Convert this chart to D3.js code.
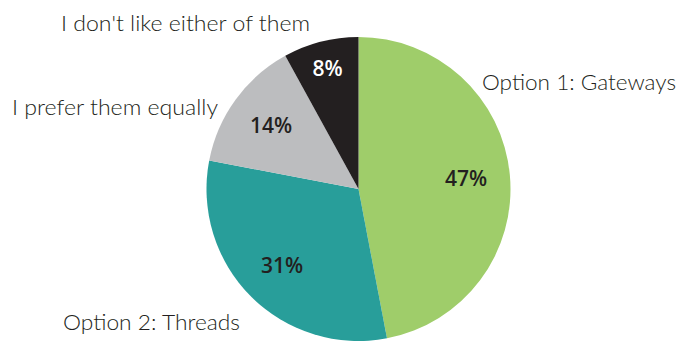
<!DOCTYPE html>
<html>
<head>
<meta charset="utf-8">
<script src="https://cdn.jsdelivr.net/npm/d3@7"></script>
<style>
  html, body { margin: 0; padding: 0; background: #fff; }
  svg { display: block; }
</style>
</head>
<body>
<svg id="chart" width="678" height="341"></svg>
<script>
const categories = ["Option 1: Gateways", "Option 2: Threads", "I prefer them equally", "I don't like either of them"];
const values = [47, 31, 14, 8];
const valueLabels = ["47%", "31%", "14%", "8%"];
const colors = ["#9fcd6a", "#289e9a", "#bcbdbf", "#231f20"];
const labelColors = ["#231f20", "#231f20", "#231f20", "#ffffff"];

const data = categories.map((c, i) => ({ category: c, value: values[i], label: valueLabels[i], color: colors[i], textColor: labelColors[i] }));

const svg = d3.select("#chart");
const cx = 358.5, cy = 189, R = 152;
const g = svg.append("g").attr("transform", `translate(${cx},${cy})`);

const pie = d3.pie().value(d => d.value).sort(null);
const arcs = pie(data);
const arc = d3.arc().innerRadius(0).outerRadius(R);

g.selectAll("path").data(arcs).join("path")
  .attr("d", arc)
  .attr("fill", d => d.data.color);

// percentage labels
const labelRadius = d => (d.endAngle - d.startAngle) < 0.6 ? 124 : 108;
g.selectAll("text.pct").data(arcs).join("text")
  .attr("class", "pct")
  .attr("transform", d => {
    const a = (d.startAngle + d.endAngle) / 2;
    const r = labelRadius(d);
    return `translate(${r * Math.sin(a)},${-r * Math.cos(a)})`;
  })
  .attr("text-anchor", "middle")
  .attr("dy", "0.36em")
  .attr("font-family", "'Open Sans', Lato, sans-serif")
  .attr("font-weight", 600)
  .attr("font-size", 21)
  .attr("fill", d => d.data.textColor)
  .text(d => d.data.label);

// category labels (placed outside the pie)
const catPos = [
  { x: 482, y: 90, w: 194 },
  { x: 63, y: 330, w: 177 },
  { x: 12, y: 115, w: 206 },
  { x: 61, y: 31, w: 249 }
];
svg.selectAll("text.cat").data(data).join("text")
  .attr("class", "cat")
  .attr("x", (d, i) => catPos[i].x)
  .attr("y", (d, i) => catPos[i].y)
  .attr("textLength", (d, i) => catPos[i].w)
  .attr("lengthAdjust", "spacingAndGlyphs")
  .attr("font-family", "Lato, 'Open Sans', sans-serif")
  .attr("font-weight", 300)
  .attr("font-size", 22)
  .attr("fill", "#231f20")
  .text(d => d.category);
</script>
</body>
</html>
